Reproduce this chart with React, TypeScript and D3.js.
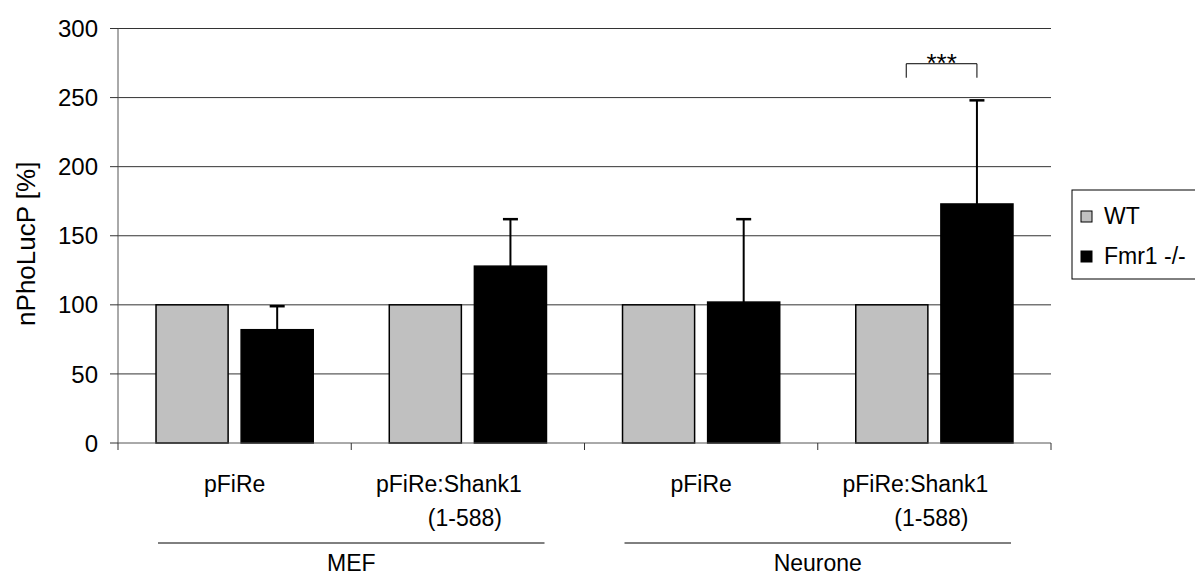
import React from 'react';
import * as d3 from 'd3';

const groups = ['MEF', 'Neurone'];
const categories = ['MEF|pFiRe', 'MEF|Shank1', 'Neurone|pFiRe', 'Neurone|Shank1'];
const categoryLines = [['pFiRe'], ['pFiRe:Shank1', '(1-588)'], ['pFiRe'], ['pFiRe:Shank1', '(1-588)']];
const series = ['WT', 'Fmr1 -/-'];
const wtValues = [100, 100, 100, 100];
const fmr1Values = [82, 128, 102, 173];
const fmr1Errors = [17, 34, 60, 75];
const yTicks = [0, 50, 100, 150, 200, 250, 300];

const colors: Record<string, string> = { 'WT': '#c0c0c0', 'Fmr1 -/-': '#000000' };
const font = '"Liberation Sans", Arial, sans-serif';

export default function App() {
  const width = 1195;
  const height = 580;
  const margin = { top: 28.5, right: 144, bottom: 137, left: 118 };
  const plotW = width - margin.left - margin.right;
  const plotH = height - margin.top - margin.bottom;

  const x0 = d3.scaleBand().domain(categories).range([0, plotW]).padding(0);
  const cw = x0.bandwidth();
  const x1 = d3.scaleBand().domain(series).range([cw * 0.163, cw * 0.837]).paddingInner(0.153);
  const y = d3.scaleLinear().domain([0, 300]).range([plotH, 0]);

  const values = [wtValues, fmr1Values];
  const star = 3; // category with the significance bracket

  return (
    <svg width={width} height={height} style={{ position: 'absolute', left: 0, top: 0, fontFamily: font }}>
      <rect width={width} height={height} fill="#fff" />
      <g transform={`translate(${margin.left},${margin.top})`}>
        {/* gridlines */}
        {yTicks.slice(1).map(t => (
          <line key={t} x1={0} x2={plotW} y1={y(t)} y2={y(t)} stroke="#333" strokeWidth={1} />
        ))}
        {/* y axis */}
        <line x1={0} x2={0} y1={0} y2={plotH} stroke="#555" strokeWidth={1} />
        {yTicks.map(t => (
          <g key={t} transform={`translate(0,${y(t)})`}>
            <line x1={-8} x2={0} stroke="#333" />
            <text x={-20} dy="0.36em" textAnchor="end" fontSize={24} fill="#000">{t}</text>
          </g>
        ))}
        <text
          transform={`translate(${35 - margin.left},${y(150) + 8}) rotate(-90)`}
          textAnchor="middle"
          fontSize={26}
          fill="#000"
        >nPhoLucP [%]</text>

        {/* bars */}
        {categories.map((c, i) => (
          <g key={c} transform={`translate(${x0(c)},0)`}>
            {series.map((s, j) => {
              const v = values[j][i];
              return (
                <rect
                  key={s}
                  x={x1(s)}
                  y={y(v)}
                  width={x1.bandwidth()}
                  height={plotH - y(v)}
                  fill={colors[s]}
                  stroke="#000"
                  strokeWidth={1.5}
                />
              );
            })}
            {(() => {
              const cx = (x1('Fmr1 -/-') || 0) + x1.bandwidth() / 2;
              const top = y(fmr1Values[i] + fmr1Errors[i]);
              return (
                <g>
                  <line x1={cx} x2={cx} y1={y(fmr1Values[i])} y2={top} stroke="#000" strokeWidth={2} />
                  <line x1={cx - 7.5} x2={cx + 7.5} y1={top} y2={top} stroke="#000" strokeWidth={2.5} />
                </g>
              );
            })()}
          </g>
        ))}

        {/* significance bracket */}
        {(() => {
          const base = x0(categories[star]) || 0;
          const a = base + (x1('WT') || 0) + x1.bandwidth() * 0.7;
          const b = base + (x1('Fmr1 -/-') || 0) + x1.bandwidth() / 2;
          const yb = y(274.5);
          return (
            <g>
              <path d={`M${a},${yb + 14}V${yb}H${b}V${yb + 14}`} fill="none" stroke="#000" strokeWidth={1} />
              <text x={(a + b) / 2} y={yb + 8} textAnchor="middle" fontSize={26} fill="#000">***</text>
            </g>
          );
        })()}

        {/* x axis */}
        <line x1={0} x2={plotW} y1={plotH} y2={plotH} stroke="#555" strokeWidth={1} />
        {d3.range(categories.length + 1).map(k => (
          <line key={k} x1={k * cw} x2={k * cw} y1={plotH} y2={plotH + 7} stroke="#333" />
        ))}
        {categories.map((c, i) => {
          const cx = (x0(c) || 0) + cw / 2;
          const lines = categoryLines[i];
          return (
            <g key={c}>
              {lines.length === 1 ? (
                <text x={cx} y={plotH + 49} textAnchor="middle" fontSize={23} fill="#000">{lines[0]}</text>
              ) : (
                <>
                  <text x={cx - 19} y={plotH + 49} textAnchor="middle" fontSize={23} fill="#000">{lines[0]}</text>
                  <text x={cx - 3} y={plotH + 83} textAnchor="middle" fontSize={23} fill="#000">{lines[1]}</text>
                </>
              )}
            </g>
          );
        })}
        {groups.map((g, gi) => {
          const left = (x0(categories[gi * 2]) || 0) + 40;
          const right = (x0(categories[gi * 2 + 1]) || 0) + cw - 40;
          return (
            <g key={g}>
              <line x1={left} x2={right} y1={plotH + 100} y2={plotH + 100} stroke="#000" strokeWidth={1} />
              <text x={(left + right) / 2} y={plotH + 128} textAnchor="middle" fontSize={23} fill="#000">{g}</text>
            </g>
          );
        })}
      </g>

      {/* legend */}
      <g transform="translate(1072,190)">
        <rect x={0} y={0} width={140} height={89} fill="#fff" stroke="#000" strokeWidth={1} />
        {series.map((s, i) => (
          <g key={s} transform={`translate(0,${26 + i * 40})`}>
            <rect x={9} y={-5} width={11} height={11} fill={colors[s]} stroke="#000" strokeWidth={1} />
            <text x={32} y={0} dy="0.36em" fontSize={23} fill="#000">{s}</text>
          </g>
        ))}
      </g>
    </svg>
  );
}
